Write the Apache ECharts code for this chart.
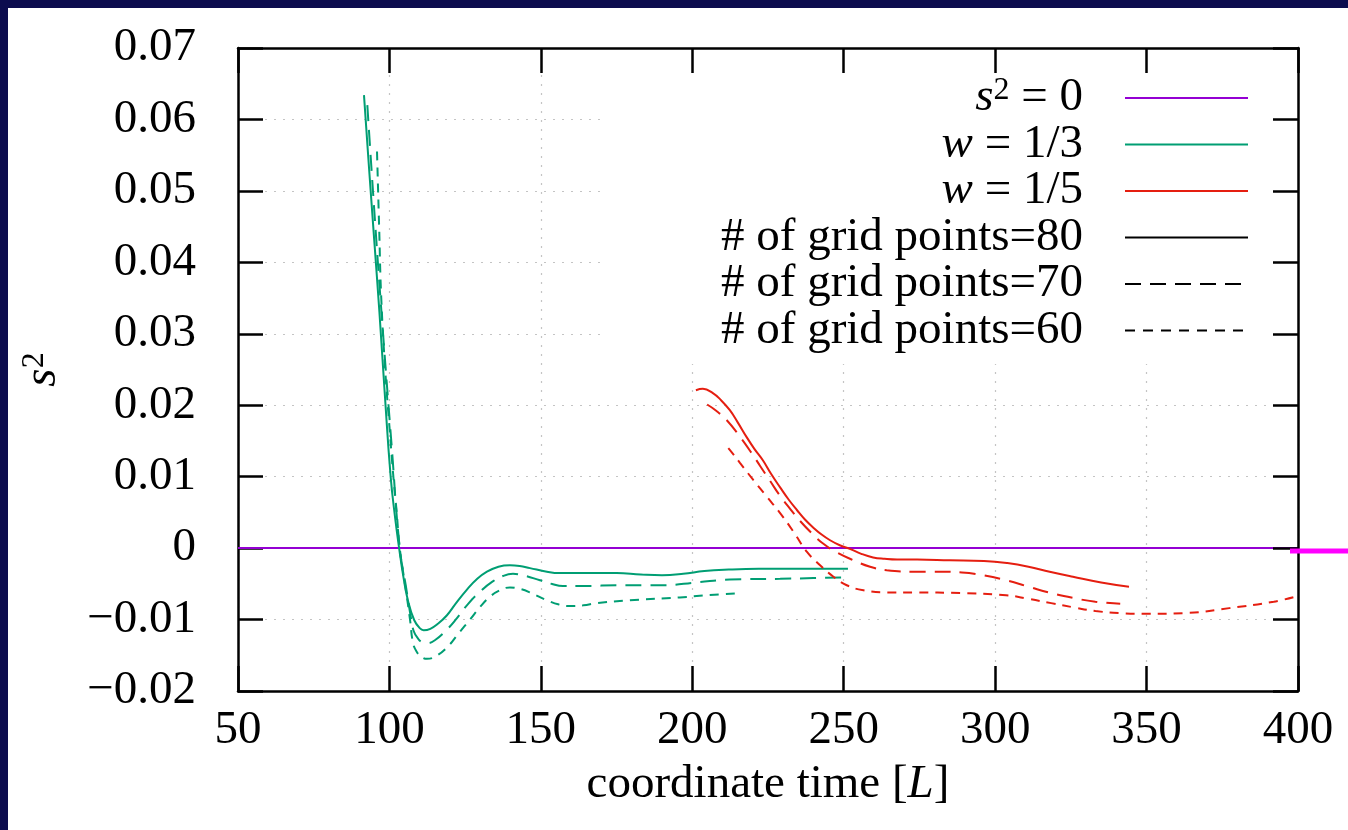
<!DOCTYPE html>
<html>
<head>
<meta charset="utf-8">
<script src="https://cdn.jsdelivr.net/npm/echarts@6/dist/echarts.min.js"></script>
<style>
  html, body { margin: 0; padding: 0; width: 1348px; height: 830px; background: #ffffff; overflow: hidden; }
  #chart { position: absolute; left: 8px; top: 8px; width: 1400px; height: 900px; background: #ffffff; }
  #frameL { position: absolute; left: 0; top: 0; width: 8px; height: 830px; background: #0c0c4e; z-index: 5; }
  #frameT { position: absolute; left: 0; top: 0; width: 1348px; height: 8px; background: #0c0c4e; z-index: 5; }
</style>
</head>
<body>
<div id="chart"></div>
<div id="frameL"></div>
<div id="frameT"></div>
<script>
// ---- data (x = coordinate time [L], y = s^2) ----
const xRange = [50, 400];
const yRange = [-0.02, 0.07];

const zeroLine = [[50, 0], [400, 0]];

const green80 = [
  [91.6, 0.0634], [93.3, 0.053], [95.0, 0.043], [96.7, 0.033], [98.4, 0.022], [100.4, 0.010],
  [101.8, 0.0045], [103.2, 0.0], [104.6, -0.004], [106.2, -0.0075], [108.2, -0.0101], [110.0, -0.0112],
  [111.3, -0.0115], [113.5, -0.0113], [116, -0.0106], [119, -0.0094], [122, -0.0077], [125.6, -0.0058],
  [129, -0.0043], [132.2, -0.0033], [136, -0.0026], [139.8, -0.0024], [143, -0.0025], [146.4, -0.0028],
  [152, -0.0033], [156, -0.0035], [165, -0.0035], [175, -0.0035], [183, -0.0037], [190, -0.0038],
  [197, -0.0036], [204, -0.0032], [212, -0.0030], [222, -0.0029], [235, -0.0029], [245, -0.0029], [251.4, -0.0029]
];
const green70 = [
  [92.7, 0.062], [95.2, 0.046], [97.9, 0.030], [100.7, 0.0145], [103.4, 0.0], [105.5, -0.0055],
  [107.0, -0.0095], [108.0, -0.0116], [109.5, -0.0127], [111.0, -0.0132], [112.4, -0.0133], [115, -0.0129],
  [119, -0.0114], [122.3, -0.0098], [126, -0.0078], [129.9, -0.0061], [134, -0.0047], [137.5, -0.0039],
  [140.8, -0.0036], [144, -0.0038], [149.7, -0.0045], [153.5, -0.0050], [157.3, -0.0053], [165, -0.0053],
  [175, -0.0052], [185, -0.0052], [190.3, -0.0052], [201.5, -0.0048], [212.4, -0.0044], [229, -0.0043],
  [240, -0.0042], [251.4, -0.0041]
];
const green60 = [
  [95.9, 0.0555], [96.6, 0.045], [97.3, 0.035], [98.6, 0.025], [100.0, 0.017], [101.3, 0.010],
  [102.4, 0.005], [103.4, 0.0], [105.3, -0.0055], [106.8, -0.010], [107.8, -0.0133], [109.0, -0.0145],
  [110.5, -0.0152], [112.4, -0.0155], [115, -0.0152], [119, -0.0139], [122.7, -0.012], [126.6, -0.0100],
  [130, -0.0082], [133.2, -0.0068], [136.5, -0.0059], [139.8, -0.0055], [143, -0.0057], [146.4, -0.0062],
  [152, -0.0073], [156, -0.0079], [159.6, -0.0081], [164, -0.008], [168.5, -0.0077], [179.4, -0.0073],
  [195.9, -0.0069], [205, -0.0066], [215.8, -0.0063]
];

const red80 = [
  [201.2, 0.0221], [203.5, 0.0223], [206.8, 0.0217], [209.5, 0.0207], [212.4, 0.0193], [215, 0.0176],
  [218, 0.0155], [220.5, 0.0139], [223.3, 0.0123], [226, 0.0104], [229, 0.0085], [231.8, 0.0068],
  [234.6, 0.0053], [237.2, 0.0040], [239.9, 0.0029], [242.7, 0.0019], [245.5, 0.0011], [248.7, 0.0004],
  [252, -0.0001], [255.8, -0.0008], [259.7, -0.0013], [263.5, -0.0015], [267.6, -0.0016], [274.2, -0.0016],
  [285, -0.0017], [296.3, -0.0018], [304, -0.0021], [311, -0.0026], [318, -0.0033], [325.7, -0.0040],
  [335, -0.0048], [344.2, -0.0054]
];
const red70 = [
  [204.9, 0.0201], [208, 0.0192], [211.4, 0.0179], [215.2, 0.0159], [219.6, 0.0133], [222.4, 0.0115],
  [225.7, 0.0094], [229, 0.0073], [232.3, 0.0055], [235.6, 0.0038], [239.4, 0.0021], [243.3, 0.0006],
  [247.7, -0.0006], [253.2, -0.0017], [258.7, -0.0026], [264.2, -0.0031], [273, -0.0033], [280, -0.0033],
  [289, -0.0034], [296, -0.0038], [303.6, -0.0045], [311, -0.0054], [318.5, -0.0063], [326, -0.0070],
  [333.1, -0.0075], [341.3, -0.0078]
];
const red60 = [
  [211.9, 0.0140], [213.8, 0.0130], [215.8, 0.0119], [220.2, 0.0095], [224.6, 0.0072], [229, 0.0049],
  [233.4, 0.0023], [237.8, -0.0005], [242.2, -0.0024], [246.6, -0.0040], [251, -0.0052], [256.5, -0.0059],
  [264.2, -0.0062], [273, -0.0062], [289, -0.0063], [303.6, -0.0066], [311, -0.0071], [318.5, -0.0077],
  [326, -0.0083], [333.1, -0.0088], [341, -0.0091], [350.8, -0.0092], [362.5, -0.0091], [377.3, -0.0084],
  [392, -0.0075], [400, -0.0067]
];

// small magenta mark at the right edge of the slide (drawn in its own little grid, 0..1)
const edgeMark = [[0, 0], [1, 0]];

const legendNames = ['s2=0', 'w=1/3', 'w=1/5', '# of grid points=80', '# of grid points=70', '# of grid points=60'];

// ---- styles ----
const FONT = 'Liberation Serif';
const FS = 47;
const PURPLE = '#9400d3', GREEN = '#009e73', RED = '#e51e10';
const DASH70 = [16, 9], DASH60 = [9, 7];

function lineSeries(name, data, color, type, extra) {
  return Object.assign({
    name: name, type: 'line', data: data, symbol: 'none', smooth: 0.45,
    lineStyle: { color: color, width: 2, type: type },
    itemStyle: { color: color },
    emphasis: { disabled: true }
  }, extra || {});
}

const axisLineStyle = { color: '#000', width: 2.5 };
const gridLineStyle = { color: '#c4c4c4', width: 1.2, type: [2, 7] };

const chart = echarts.init(document.getElementById('chart'));
chart.setOption({
  animation: false,
  backgroundColor: '#ffffff',
  textStyle: { fontFamily: FONT },
  grid: [
    { left: 230, top: 40, width: 1060, height: 643, containLabel: false },
    { left: 1282, top: 538, width: 58, height: 10, containLabel: false }
  ],
  xAxis: [{
    type: 'value', min: xRange[0], max: xRange[1], interval: 50, position: 'bottom', gridIndex: 0,
    axisLine: { onZero: false, lineStyle: axisLineStyle },
    axisTick: { inside: true, length: 25, lineStyle: axisLineStyle },
    axisLabel: { fontFamily: FONT, fontSize: FS, lineHeight: FS, color: '#000', margin: 16, showMinLabel: true, showMaxLabel: true, hideOverlap: false },
    splitLine: { show: true, lineStyle: gridLineStyle },
    name: '{t|coordinate time [}{it|L}{t|]}', nameLocation: 'middle', nameGap: 70,
    nameTextStyle: { fontFamily: FONT, fontSize: FS, lineHeight: FS, color: '#000',
      rich: { t: { fontFamily: FONT, fontSize: FS, lineHeight: FS, color: '#000' },
              it: { fontFamily: FONT, fontSize: FS, lineHeight: FS, fontStyle: 'italic', color: '#000' } } }
  }, {
    type: 'value', min: xRange[0], max: xRange[1], interval: 50, position: 'top', z: 10, gridIndex: 0,
    axisLine: { onZero: false, lineStyle: axisLineStyle },
    axisTick: { inside: true, length: 25, lineStyle: axisLineStyle },
    axisLabel: { show: false }, splitLine: { show: false }
  }, {
    type: 'value', min: 0, max: 1, gridIndex: 1, show: false
  }],
  yAxis: [{
    type: 'value', min: yRange[0], max: yRange[1], interval: 0.01, position: 'left', gridIndex: 0,
    axisLine: { onZero: false, lineStyle: axisLineStyle },
    axisTick: { inside: true, length: 25, lineStyle: axisLineStyle },
    axisLabel: {
      fontFamily: FONT, fontSize: FS, lineHeight: FS, color: '#000', margin: 42, showMinLabel: true, showMaxLabel: true,
      formatter: function (v) {
        const r = Math.round(v * 1000) / 1000;
        if (r === 0) return '0';
        return r < 0 ? '\u2212' + Math.abs(r).toFixed(2) : r.toFixed(2);
      }
    },
    splitLine: { show: true, lineStyle: gridLineStyle },
    name: '{i|s}{sup|2}', nameLocation: 'middle', nameGap: 172, nameRotate: 90,
    nameTextStyle: { fontFamily: FONT, fontSize: FS, lineHeight: FS, color: '#000',
      rich: { i: { fontFamily: FONT, fontSize: FS, lineHeight: FS, fontStyle: 'italic', color: '#000' },
              sup: { fontFamily: FONT, fontSize: 32, lineHeight: 26, verticalAlign: 'top', color: '#000' } } }
  }, {
    type: 'value', min: yRange[0], max: yRange[1], interval: 0.01, position: 'right', z: 10, gridIndex: 0,
    axisLine: { onZero: false, lineStyle: axisLineStyle },
    axisTick: { inside: true, length: 25, lineStyle: axisLineStyle },
    axisLabel: { show: false }, splitLine: { show: false }
  }, {
    type: 'value', min: -1, max: 1, gridIndex: 1, show: false
  }],
  legend: {
    data: legendNames, orient: 'vertical', align: 'right', right: 110, top: 40,
    padding: [26.4, 49, 10, 120], backgroundColor: '#ffffff',
    itemWidth: 123, itemHeight: 14, itemGap: -0.5, selectedMode: false,
    itemStyle: { opacity: 0, borderWidth: 0 },
    textStyle: {
      fontFamily: FONT, fontSize: FS, color: '#000', padding: [0, 37, 0, 0],
      rich: {
        i: { fontFamily: FONT, fontSize: FS, fontStyle: 'italic', color: '#000' },
        sup: { fontFamily: FONT, fontSize: 32, lineHeight: 14, verticalAlign: 'top', color: '#000' }
      }
    },
    formatter: function (name) {
      if (name === 's2=0') return '{i|s}{sup|2} = 0';
      if (name.indexOf('w=') === 0) return '{i|w} = ' + name.slice(2);
      return name;
    }
  },
  series: [
    lineSeries('s2=0', zeroLine, PURPLE, 'solid', { smooth: false }),
    lineSeries('w=1/3', green80, GREEN, 'solid'),
    lineSeries('w=1/3 (70)', green70, GREEN, DASH70),
    lineSeries('w=1/3 (60)', green60, GREEN, DASH60),
    lineSeries('w=1/5', red80, RED, 'solid'),
    lineSeries('w=1/5 (70)', red70, RED, DASH70),
    lineSeries('w=1/5 (60)', red60, RED, DASH60),
    lineSeries('# of grid points=80', [], '#000', 'solid'),
    lineSeries('# of grid points=70', [], '#000', DASH70),
    lineSeries('# of grid points=60', [], '#000', [10, 8]),
    lineSeries('edge', edgeMark, '#ff00ff', 'solid', { smooth: false, xAxisIndex: 2, yAxisIndex: 2, clip: false, z: 20, lineStyle: { color: '#ff00ff', width: 5 } })
  ]
});
</script>
</body>
</html>
